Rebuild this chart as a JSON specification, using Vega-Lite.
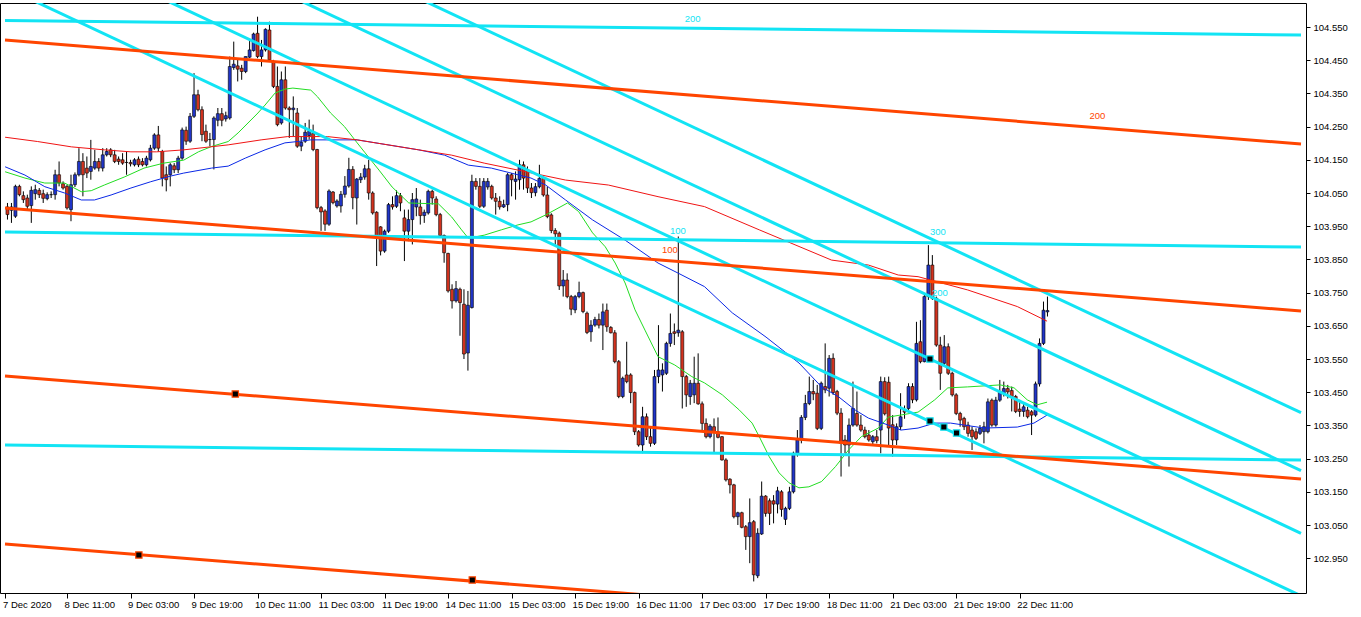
{
"$schema":"https://vega.github.io/schema/vega-lite/v6.json",
"width":1306,"height":590,
"padding":{"left":0,"top":3,"right":0,"bottom":0},
"background":"white",
"config":{"view":{"stroke":"black","strokeWidth":1},"axis":{"labelOverlap":false,"labelBound":false,"labelFlush":false,"title":null,"grid":false,"domain":false,"labelFont":"Liberation Sans","labelFontSize":9.5,"labelColor":"black","tickColor":"black"}},
"datasets":{
"last":[{"price":103.696}],
"candles":[
{"i":-15,"o":104.008,"h":104.02,"l":103.97,"c":103.985},
{"i":-14,"o":103.998,"h":104.02,"l":103.96,"c":104.008},
{"i":-13,"o":103.98,"h":104.075,"l":103.975,"c":104.07},
{"i":-12,"o":104.07,"h":104.075,"l":104.04,"c":104.045},
{"i":-11,"o":104.042,"h":104.055,"l":104.02,"c":104.03},
{"i":-10,"o":104.035,"h":104.045,"l":104.0,"c":104.01},
{"i":-9,"o":104.012,"h":104.07,"l":103.96,"c":104.058},
{"i":-8,"o":104.048,"h":104.075,"l":104.03,"c":104.06},
{"i":-7,"o":104.058,"h":104.065,"l":104.035,"c":104.045},
{"i":-6,"o":104.048,"h":104.06,"l":104.02,"c":104.034},
{"i":-5,"o":104.033,"h":104.052,"l":104.028,"c":104.045},
{"i":-4,"o":104.045,"h":104.055,"l":104.035,"c":104.045},
{"i":-3,"o":104.045,"h":104.12,"l":104.03,"c":104.105},
{"i":-2,"o":104.105,"h":104.145,"l":104.07,"c":104.08},
{"i":-1,"o":104.078,"h":104.085,"l":104.06,"c":104.065},
{"i":0,"o":104.07,"h":104.075,"l":104.0,"c":104.005},
{"i":1,"o":104.0,"h":104.105,"l":103.965,"c":104.075},
{"i":2,"o":104.075,"h":104.112,"l":104.068,"c":104.105},
{"i":3,"o":104.105,"h":104.185,"l":104.1,"c":104.145},
{"i":4,"o":104.145,"h":104.17,"l":104.04,"c":104.105},
{"i":5,"o":104.125,"h":104.16,"l":104.095,"c":104.11},
{"i":6,"o":104.115,"h":104.21,"l":104.09,"c":104.13},
{"i":7,"o":104.125,"h":104.18,"l":104.12,"c":104.145},
{"i":8,"o":104.145,"h":104.155,"l":104.115,"c":104.125},
{"i":9,"o":104.125,"h":104.185,"l":104.115,"c":104.165},
{"i":10,"o":104.165,"h":104.185,"l":104.16,"c":104.175},
{"i":11,"o":104.18,"h":104.185,"l":104.158,"c":104.165},
{"i":12,"o":104.165,"h":104.18,"l":104.14,"c":104.145},
{"i":13,"o":104.152,"h":104.16,"l":104.135,"c":104.145},
{"i":14,"o":104.15,"h":104.17,"l":104.135,"c":104.14},
{"i":15,"o":104.142,"h":104.175,"l":104.105,"c":104.142},
{"i":16,"o":104.142,"h":104.15,"l":104.13,"c":104.138},
{"i":17,"o":104.135,"h":104.155,"l":104.13,"c":104.15},
{"i":18,"o":104.152,"h":104.16,"l":104.128,"c":104.135},
{"i":19,"o":104.145,"h":104.155,"l":104.13,"c":104.135},
{"i":20,"o":104.135,"h":104.162,"l":104.13,"c":104.155},
{"i":21,"o":104.15,"h":104.195,"l":104.145,"c":104.185},
{"i":22,"o":104.185,"h":104.23,"l":104.18,"c":104.225},
{"i":23,"o":104.225,"h":104.252,"l":104.175,"c":104.185},
{"i":24,"o":104.175,"h":104.18,"l":104.07,"c":104.095},
{"i":25,"o":104.105,"h":104.13,"l":104.055,"c":104.09},
{"i":26,"o":104.105,"h":104.14,"l":104.07,"c":104.135},
{"i":27,"o":104.132,"h":104.14,"l":104.11,"c":104.12},
{"i":28,"o":104.12,"h":104.162,"l":104.11,"c":104.155},
{"i":29,"o":104.155,"h":104.247,"l":104.15,"c":104.24},
{"i":30,"o":104.239,"h":104.25,"l":104.195,"c":104.206},
{"i":31,"o":104.206,"h":104.291,"l":104.201,"c":104.281},
{"i":32,"o":104.281,"h":104.411,"l":104.276,"c":104.346},
{"i":33,"o":104.346,"h":104.361,"l":104.296,"c":104.301},
{"i":34,"o":104.301,"h":104.311,"l":104.206,"c":104.226},
{"i":35,"o":104.236,"h":104.256,"l":104.201,"c":104.206},
{"i":36,"o":104.211,"h":104.231,"l":104.191,"c":104.211},
{"i":37,"o":104.211,"h":104.281,"l":104.121,"c":104.276},
{"i":38,"o":104.269,"h":104.306,"l":104.251,"c":104.289},
{"i":39,"o":104.289,"h":104.306,"l":104.251,"c":104.269},
{"i":40,"o":104.273,"h":104.295,"l":104.265,"c":104.283},
{"i":41,"o":104.276,"h":104.461,"l":104.271,"c":104.431},
{"i":42,"o":104.428,"h":104.506,"l":104.421,"c":104.438},
{"i":43,"o":104.433,"h":104.451,"l":104.386,"c":104.423},
{"i":44,"o":104.426,"h":104.436,"l":104.391,"c":104.416},
{"i":45,"o":104.416,"h":104.461,"l":104.411,"c":104.461},
{"i":46,"o":104.459,"h":104.511,"l":104.456,"c":104.481},
{"i":47,"o":104.479,"h":104.533,"l":104.476,"c":104.529},
{"i":48,"o":104.531,"h":104.581,"l":104.456,"c":104.461},
{"i":49,"o":104.461,"h":104.511,"l":104.431,"c":104.481},
{"i":50,"o":104.481,"h":104.546,"l":104.476,"c":104.543},
{"i":51,"o":104.541,"h":104.566,"l":104.446,"c":104.451},
{"i":52,"o":104.446,"h":104.451,"l":104.366,"c":104.371},
{"i":53,"o":104.371,"h":104.431,"l":104.251,"c":104.256},
{"i":54,"o":104.261,"h":104.416,"l":104.256,"c":104.391},
{"i":55,"o":104.391,"h":104.431,"l":104.301,"c":104.306},
{"i":56,"o":104.306,"h":104.311,"l":104.216,"c":104.301},
{"i":57,"o":104.301,"h":104.341,"l":104.221,"c":104.306},
{"i":58,"o":104.291,"h":104.306,"l":104.186,"c":104.191},
{"i":59,"o":104.191,"h":104.221,"l":104.176,"c":104.203},
{"i":60,"o":104.206,"h":104.261,"l":104.201,"c":104.233},
{"i":61,"o":104.223,"h":104.271,"l":104.211,"c":104.236},
{"i":62,"o":104.229,"h":104.256,"l":104.176,"c":104.181},
{"i":63,"o":104.181,"h":104.183,"l":104.001,"c":104.006},
{"i":64,"o":104.006,"h":104.011,"l":103.936,"c":103.993},
{"i":65,"o":103.996,"h":104.001,"l":103.936,"c":103.956},
{"i":66,"o":103.956,"h":104.061,"l":103.951,"c":104.056},
{"i":67,"o":104.053,"h":104.056,"l":104.016,"c":104.021},
{"i":68,"o":104.011,"h":104.031,"l":104.006,"c":104.026},
{"i":69,"o":104.011,"h":104.056,"l":103.991,"c":104.046},
{"i":70,"o":104.046,"h":104.101,"l":104.036,"c":104.071},
{"i":71,"o":104.071,"h":104.156,"l":104.066,"c":104.121},
{"i":72,"o":104.121,"h":104.131,"l":104.001,"c":104.036},
{"i":73,"o":104.035,"h":104.095,"l":103.955,"c":104.092},
{"i":74,"o":104.09,"h":104.11,"l":104.08,"c":104.098},
{"i":75,"o":104.098,"h":104.135,"l":104.09,"c":104.123},
{"i":76,"o":104.123,"h":104.15,"l":104.03,"c":104.05},
{"i":77,"o":104.05,"h":104.055,"l":103.985,"c":103.99},
{"i":78,"o":103.992,"h":103.995,"l":103.83,"c":103.92},
{"i":79,"o":103.948,"h":103.95,"l":103.862,"c":103.875},
{"i":80,"o":103.875,"h":103.94,"l":103.87,"c":103.935},
{"i":81,"o":103.935,"h":104.02,"l":103.93,"c":104.015},
{"i":82,"o":104.015,"h":104.04,"l":104.0,"c":104.008},
{"i":83,"o":104.01,"h":104.058,"l":104.005,"c":104.042},
{"i":84,"o":104.042,"h":104.05,"l":103.995,"c":104.02},
{"i":85,"o":103.975,"h":104.0,"l":103.845,"c":103.935},
{"i":86,"o":103.935,"h":104.0,"l":103.905,"c":103.97},
{"i":87,"o":103.97,"h":104.05,"l":103.895,"c":104.03},
{"i":88,"o":104.008,"h":104.065,"l":103.98,"c":104.032},
{"i":89,"o":104.008,"h":104.03,"l":103.955,"c":103.982},
{"i":90,"o":103.982,"h":104.0,"l":103.96,"c":103.992},
{"i":91,"o":103.99,"h":104.06,"l":103.985,"c":104.055},
{"i":92,"o":104.055,"h":104.06,"l":104.015,"c":104.035},
{"i":93,"o":104.032,"h":104.04,"l":103.98,"c":103.985},
{"i":94,"o":103.985,"h":103.99,"l":103.918,"c":103.922},
{"i":95,"o":103.922,"h":103.925,"l":103.84,"c":103.87},
{"i":96,"o":103.868,"h":103.87,"l":103.75,"c":103.755},
{"i":97,"o":103.76,"h":103.775,"l":103.702,"c":103.725},
{"i":98,"o":103.725,"h":103.785,"l":103.72,"c":103.762},
{"i":99,"o":103.76,"h":103.765,"l":103.62,"c":103.72},
{"i":100,"o":103.715,"h":103.76,"l":103.55,"c":103.565},
{"i":101,"o":103.568,"h":103.755,"l":103.515,"c":103.712},
{"i":102,"o":103.705,"h":104.105,"l":103.702,"c":104.085},
{"i":103,"o":104.085,"h":104.095,"l":104.06,"c":104.07},
{"i":104,"o":104.07,"h":104.095,"l":104.005,"c":104.01},
{"i":105,"o":104.01,"h":104.095,"l":104.005,"c":104.085},
{"i":106,"o":104.068,"h":104.095,"l":104.06,"c":104.085},
{"i":107,"o":104.07,"h":104.075,"l":104.03,"c":104.035},
{"i":108,"o":104.035,"h":104.05,"l":103.985,"c":104.025},
{"i":109,"o":104.025,"h":104.04,"l":104.0,"c":104.008},
{"i":110,"o":104.008,"h":104.03,"l":104.005,"c":104.015},
{"i":111,"o":104.015,"h":104.11,"l":103.995,"c":104.105},
{"i":112,"o":104.105,"h":104.11,"l":104.04,"c":104.09},
{"i":113,"o":104.085,"h":104.115,"l":104.03,"c":104.092},
{"i":114,"o":104.09,"h":104.15,"l":104.06,"c":104.135},
{"i":115,"o":104.135,"h":104.145,"l":104.06,"c":104.095},
{"i":116,"o":104.12,"h":104.13,"l":104.05,"c":104.065},
{"i":117,"o":104.065,"h":104.08,"l":104.035,"c":104.051},
{"i":118,"o":104.051,"h":104.08,"l":104.04,"c":104.069},
{"i":119,"o":104.069,"h":104.135,"l":104.064,"c":104.094},
{"i":120,"o":104.094,"h":104.1,"l":104.039,"c":104.044},
{"i":121,"o":104.044,"h":104.069,"l":103.974,"c":103.979},
{"i":122,"o":103.984,"h":103.989,"l":103.929,"c":103.937},
{"i":123,"o":103.937,"h":103.944,"l":103.894,"c":103.927},
{"i":124,"o":103.929,"h":103.934,"l":103.758,"c":103.77},
{"i":125,"o":103.77,"h":103.818,"l":103.738,"c":103.788},
{"i":126,"o":103.788,"h":103.808,"l":103.733,"c":103.738},
{"i":127,"o":103.738,"h":103.743,"l":103.682,"c":103.7},
{"i":128,"o":103.698,"h":103.743,"l":103.688,"c":103.738},
{"i":129,"o":103.738,"h":103.783,"l":103.733,"c":103.75},
{"i":130,"o":103.75,"h":103.753,"l":103.688,"c":103.693},
{"i":131,"o":103.688,"h":103.693,"l":103.625,"c":103.63},
{"i":132,"o":103.632,"h":103.667,"l":103.602,"c":103.652},
{"i":133,"o":103.652,"h":103.677,"l":103.647,"c":103.669},
{"i":134,"o":103.669,"h":103.687,"l":103.642,"c":103.652},
{"i":135,"o":103.652,"h":103.717,"l":103.577,"c":103.692},
{"i":136,"o":103.697,"h":103.717,"l":103.632,"c":103.647},
{"i":137,"o":103.645,"h":103.649,"l":103.627,"c":103.629},
{"i":138,"o":103.629,"h":103.637,"l":103.537,"c":103.542},
{"i":139,"o":103.542,"h":103.547,"l":103.432,"c":103.437},
{"i":140,"o":103.437,"h":103.497,"l":103.432,"c":103.492},
{"i":141,"o":103.502,"h":103.602,"l":103.477,"c":103.482},
{"i":142,"o":103.502,"h":103.507,"l":103.417,"c":103.449},
{"i":143,"o":103.449,"h":103.452,"l":103.321,"c":103.331},
{"i":144,"o":103.331,"h":103.336,"l":103.286,"c":103.291},
{"i":145,"o":103.291,"h":103.406,"l":103.266,"c":103.376},
{"i":146,"o":103.376,"h":103.386,"l":103.306,"c":103.316},
{"i":147,"o":103.316,"h":103.346,"l":103.286,"c":103.296},
{"i":148,"o":103.296,"h":103.517,"l":103.291,"c":103.497},
{"i":149,"o":103.497,"h":103.652,"l":103.477,"c":103.517},
{"i":150,"o":103.502,"h":103.537,"l":103.452,"c":103.517},
{"i":151,"o":103.507,"h":103.602,"l":103.502,"c":103.597},
{"i":152,"o":103.597,"h":103.687,"l":103.587,"c":103.627},
{"i":153,"o":103.632,"h":103.657,"l":103.592,"c":103.627},
{"i":154,"o":103.629,"h":103.919,"l":103.617,"c":103.637},
{"i":155,"o":103.632,"h":103.637,"l":103.401,"c":103.497},
{"i":156,"o":103.497,"h":103.502,"l":103.406,"c":103.442},
{"i":157,"o":103.437,"h":103.487,"l":103.412,"c":103.477},
{"i":158,"o":103.442,"h":103.557,"l":103.417,"c":103.477},
{"i":159,"o":103.477,"h":103.567,"l":103.412,"c":103.415},
{"i":160,"o":103.415,"h":103.422,"l":103.336,"c":103.356},
{"i":161,"o":103.356,"h":103.371,"l":103.311,"c":103.316},
{"i":162,"o":103.316,"h":103.354,"l":103.311,"c":103.348},
{"i":163,"o":103.346,"h":103.371,"l":103.266,"c":103.331},
{"i":164,"o":103.331,"h":103.374,"l":103.311,"c":103.314},
{"i":165,"o":103.316,"h":103.318,"l":103.244,"c":103.246},
{"i":166,"o":103.246,"h":103.251,"l":103.181,"c":103.186},
{"i":167,"o":103.188,"h":103.191,"l":103.145,"c":103.171},
{"i":168,"o":103.171,"h":103.174,"l":103.07,"c":103.075},
{"i":169,"o":103.075,"h":103.09,"l":103.05,"c":103.087},
{"i":170,"o":103.087,"h":103.09,"l":103.04,"c":103.043},
{"i":171,"o":103.045,"h":103.05,"l":102.975,"c":103.015},
{"i":172,"o":103.015,"h":103.13,"l":102.935,"c":103.057},
{"i":173,"o":103.06,"h":103.065,"l":102.88,"c":102.9},
{"i":174,"o":102.897,"h":103.04,"l":102.89,"c":103.025},
{"i":175,"o":103.023,"h":103.181,"l":103.02,"c":103.137},
{"i":176,"o":103.137,"h":103.14,"l":103.075,"c":103.085},
{"i":177,"o":103.123,"h":103.13,"l":103.05,"c":103.085},
{"i":178,"o":103.123,"h":103.14,"l":103.055,"c":103.113},
{"i":179,"o":103.113,"h":103.165,"l":103.085,"c":103.153},
{"i":180,"o":103.15,"h":103.155,"l":103.075,"c":103.097},
{"i":181,"o":103.067,"h":103.105,"l":103.05,"c":103.1},
{"i":182,"o":103.1,"h":103.165,"l":103.095,"c":103.15},
{"i":183,"o":103.15,"h":103.271,"l":103.145,"c":103.266},
{"i":184,"o":103.266,"h":103.336,"l":103.256,"c":103.306},
{"i":185,"o":103.306,"h":103.381,"l":103.296,"c":103.374},
{"i":186,"o":103.374,"h":103.442,"l":103.366,"c":103.416},
{"i":187,"o":103.416,"h":103.497,"l":103.411,"c":103.452},
{"i":188,"o":103.452,"h":103.487,"l":103.426,"c":103.445},
{"i":189,"o":103.447,"h":103.472,"l":103.336,"c":103.341},
{"i":190,"o":103.341,"h":103.482,"l":103.336,"c":103.477},
{"i":191,"o":103.467,"h":103.597,"l":103.447,"c":103.457},
{"i":192,"o":103.462,"h":103.562,"l":103.437,"c":103.552},
{"i":193,"o":103.552,"h":103.567,"l":103.442,"c":103.449},
{"i":194,"o":103.452,"h":103.457,"l":103.381,"c":103.387},
{"i":195,"o":103.387,"h":103.402,"l":103.196,"c":103.296},
{"i":196,"o":103.306,"h":103.321,"l":103.266,"c":103.291},
{"i":197,"o":103.291,"h":103.371,"l":103.226,"c":103.351},
{"i":198,"o":103.351,"h":103.482,"l":103.346,"c":103.401},
{"i":199,"o":103.386,"h":103.452,"l":103.346,"c":103.351},
{"i":200,"o":103.351,"h":103.381,"l":103.331,"c":103.336},
{"i":201,"o":103.336,"h":103.346,"l":103.311,"c":103.316},
{"i":202,"o":103.321,"h":103.336,"l":103.301,"c":103.306},
{"i":203,"o":103.301,"h":103.321,"l":103.291,"c":103.316},
{"i":204,"o":103.316,"h":103.336,"l":103.296,"c":103.304},
{"i":205,"o":103.336,"h":103.497,"l":103.266,"c":103.482},
{"i":206,"o":103.482,"h":103.495,"l":103.38,"c":103.385},
{"i":207,"o":103.48,"h":103.497,"l":103.286,"c":103.342},
{"i":208,"o":103.352,"h":103.381,"l":103.256,"c":103.306},
{"i":209,"o":103.306,"h":103.356,"l":103.291,"c":103.346},
{"i":210,"o":103.346,"h":103.447,"l":103.336,"c":103.376},
{"i":211,"o":103.395,"h":103.41,"l":103.37,"c":103.39},
{"i":212,"o":103.401,"h":103.477,"l":103.396,"c":103.467},
{"i":213,"o":103.467,"h":103.477,"l":103.417,"c":103.427},
{"i":214,"o":103.427,"h":103.662,"l":103.422,"c":103.597},
{"i":215,"o":103.602,"h":103.667,"l":103.537,"c":103.542},
{"i":216,"o":103.542,"h":103.743,"l":103.54,"c":103.738},
{"i":217,"o":103.738,"h":103.893,"l":103.728,"c":103.833},
{"i":218,"o":103.833,"h":103.863,"l":103.728,"c":103.733},
{"i":219,"o":103.733,"h":103.738,"l":103.587,"c":103.592},
{"i":220,"o":103.592,"h":103.617,"l":103.457,"c":103.507},
{"i":221,"o":103.537,"h":103.622,"l":103.527,"c":103.587},
{"i":222,"o":103.587,"h":103.597,"l":103.502,"c":103.507},
{"i":223,"o":103.507,"h":103.512,"l":103.437,"c":103.442},
{"i":224,"o":103.442,"h":103.447,"l":103.381,"c":103.386},
{"i":225,"o":103.386,"h":103.391,"l":103.346,"c":103.366},
{"i":226,"o":103.371,"h":103.376,"l":103.336,"c":103.346},
{"i":227,"o":103.351,"h":103.361,"l":103.316,"c":103.326},
{"i":228,"o":103.336,"h":103.346,"l":103.276,"c":103.316},
{"i":229,"o":103.331,"h":103.341,"l":103.306,"c":103.311},
{"i":230,"o":103.326,"h":103.351,"l":103.321,"c":103.341},
{"i":231,"o":103.331,"h":103.361,"l":103.296,"c":103.346},
{"i":232,"o":103.331,"h":103.431,"l":103.326,"c":103.421},
{"i":233,"o":103.426,"h":103.431,"l":103.346,"c":103.351},
{"i":234,"o":103.351,"h":103.436,"l":103.346,"c":103.426},
{"i":235,"o":103.426,"h":103.487,"l":103.421,"c":103.451},
{"i":236,"o":103.446,"h":103.482,"l":103.437,"c":103.461},
{"i":237,"o":103.461,"h":103.472,"l":103.431,"c":103.451},
{"i":238,"o":103.455,"h":103.467,"l":103.392,"c":103.437},
{"i":239,"o":103.437,"h":103.442,"l":103.387,"c":103.392},
{"i":240,"o":103.399,"h":103.427,"l":103.376,"c":103.392},
{"i":241,"o":103.392,"h":103.417,"l":103.376,"c":103.406},
{"i":242,"o":103.396,"h":103.406,"l":103.371,"c":103.376},
{"i":243,"o":103.391,"h":103.396,"l":103.321,"c":103.381},
{"i":244,"o":103.381,"h":103.482,"l":103.376,"c":103.475},
{"i":245,"o":103.475,"h":103.612,"l":103.467,"c":103.597},
{"i":246,"o":103.597,"h":103.723,"l":103.592,"c":103.697},
{"i":247,"o":103.692,"h":103.738,"l":103.678,"c":103.696}
],
"ma":[
{"k":"g","i":-15.6,"p":104.114},{"k":"g","i":-10.6,"p":104.095},{"k":"g","i":-5.6,"p":104.08},{"k":"g","i":-0.6,"p":104.08},{"k":"g","i":3.6,"p":104.054},{"k":"g","i":6.1,"p":104.057},{"k":"g","i":9.4,"p":104.074},{"k":"g","i":14.4,"p":104.098},{"k":"g","i":19.4,"p":104.125},{"k":"g","i":24.4,"p":104.14},{"k":"g","i":29.4,"p":104.149},{"k":"g","i":33.1,"p":104.174},{"k":"g","i":36.4,"p":104.19},{"k":"g","i":40.6,"p":104.205},{"k":"g","i":43.1,"p":104.231},{"k":"g","i":48.1,"p":104.291},{"k":"g","i":49.9,"p":104.315},{"k":"g","i":52.4,"p":104.351},{"k":"g","i":54.9,"p":104.363},{"k":"g","i":56.9,"p":104.366},{"k":"g","i":61.4,"p":104.36},{"k":"g","i":63.1,"p":104.34},{"k":"g","i":66.4,"p":104.291},{"k":"g","i":69.9,"p":104.25},{"k":"g","i":73.1,"p":104.201},{"k":"g","i":75.1,"p":104.171},{"k":"g","i":78.6,"p":104.119},{"k":"g","i":81.9,"p":104.068},{"k":"g","i":86.1,"p":104.02},{"k":"g","i":93.6,"p":104.017},{"k":"g","i":96.9,"p":103.978},{"k":"g","i":99.4,"p":103.939},{"k":"g","i":101.1,"p":103.914},{"k":"g","i":105.1,"p":103.923},{"k":"g","i":109.4,"p":103.939},{"k":"g","i":113.6,"p":103.954},{"k":"g","i":116.9,"p":103.963},{"k":"g","i":120.6,"p":103.984},{"k":"g","i":126.1,"p":104.02},{"k":"g","i":128.9,"p":103.994},{"k":"g","i":132.4,"p":103.93},{"k":"g","i":135.6,"p":103.888},{"k":"g","i":138.1,"p":103.839},{"k":"g","i":140.6,"p":103.779},{"k":"g","i":143.1,"p":103.698},{"k":"g","i":145.6,"p":103.637},{"k":"g","i":148.9,"p":103.557},{"k":"g","i":153.1,"p":103.532},{"k":"g","i":157.4,"p":103.497},{"k":"g","i":160.6,"p":103.478},{"k":"g","i":165.1,"p":103.442},{"k":"g","i":169.4,"p":103.396},{"k":"g","i":172.6,"p":103.357},{"k":"g","i":174.4,"p":103.316},{"k":"g","i":176.9,"p":103.256},{"k":"g","i":179.4,"p":103.207},{"k":"g","i":181.9,"p":103.177},{"k":"g","i":184.4,"p":103.162},{"k":"g","i":186.9,"p":103.165},{"k":"g","i":190.1,"p":103.181},{"k":"g","i":193.6,"p":103.226},{"k":"g","i":196.9,"p":103.276},{"k":"g","i":200.1,"p":103.316},{"k":"g","i":204.4,"p":103.342},{"k":"g","i":206.9,"p":103.375},{"k":"g","i":214.4,"p":103.39},{"k":"g","i":218.6,"p":103.427},{"k":"g","i":221.9,"p":103.463},{"k":"g","i":226.9,"p":103.466},{"k":"g","i":235.1,"p":103.472},{"k":"g","i":238.6,"p":103.463},{"k":"g","i":241.9,"p":103.427},{"k":"g","i":244.4,"p":103.412},{"k":"g","i":246.9,"p":103.42},
{"k":"b","i":-15.6,"p":104.129},{"k":"b","i":-10.6,"p":104.104},{"k":"b","i":-5.6,"p":104.069},{"k":"b","i":-0.6,"p":104.05},{"k":"b","i":3.6,"p":104.029},{"k":"b","i":6.9,"p":104.029},{"k":"b","i":11.1,"p":104.044},{"k":"b","i":16.1,"p":104.065},{"k":"b","i":21.1,"p":104.084},{"k":"b","i":26.1,"p":104.101},{"k":"b","i":29.4,"p":104.11},{"k":"b","i":36.4,"p":104.125},{"k":"b","i":40.6,"p":104.131},{"k":"b","i":44.9,"p":104.155},{"k":"b","i":49.9,"p":104.18},{"k":"b","i":54.9,"p":104.201},{"k":"b","i":58.1,"p":104.205},{"k":"b","i":61.4,"p":104.21},{"k":"b","i":73.1,"p":104.21},{"k":"b","i":88.6,"p":104.18},{"k":"b","i":95.1,"p":104.164},{"k":"b","i":101.1,"p":104.134},{"k":"b","i":106.9,"p":104.125},{"k":"b","i":111.9,"p":104.11},{"k":"b","i":116.9,"p":104.095},{"k":"b","i":120.6,"p":104.074},{"k":"b","i":125.6,"p":104.029},{"k":"b","i":132.4,"p":103.969},{"k":"b","i":140.6,"p":103.908},{"k":"b","i":148.9,"p":103.839},{"k":"b","i":153.9,"p":103.809},{"k":"b","i":160.6,"p":103.768},{"k":"b","i":167.6,"p":103.689},{"k":"b","i":176.1,"p":103.616},{"k":"b","i":184.4,"p":103.538},{"k":"b","i":190.1,"p":103.466},{"k":"b","i":194.4,"p":103.436},{"k":"b","i":198.6,"p":103.396},{"k":"b","i":201.9,"p":103.372},{"k":"b","i":206.9,"p":103.351},{"k":"b","i":210.1,"p":103.336},{"k":"b","i":214.4,"p":103.342},{"k":"b","i":218.6,"p":103.357},{"k":"b","i":222.6,"p":103.357},{"k":"b","i":231.1,"p":103.342},{"k":"b","i":239.4,"p":103.345},{"k":"b","i":243.6,"p":103.357},{"k":"b","i":246.9,"p":103.381},
{"k":"r","i":-15.6,"p":104.218},{"k":"r","i":-7.4,"p":104.205},{"k":"r","i":1.1,"p":104.189},{"k":"r","i":9.4,"p":104.18},{"k":"r","i":16.1,"p":104.174},{"k":"r","i":22.6,"p":104.174},{"k":"r","i":29.4,"p":104.18},{"k":"r","i":40.6,"p":104.195},{"k":"r","i":48.9,"p":104.21},{"k":"r","i":55.6,"p":104.22},{"k":"r","i":65.6,"p":104.22},{"k":"r","i":73.1,"p":104.21},{"k":"r","i":88.6,"p":104.18},{"k":"r","i":96.9,"p":104.164},{"k":"r","i":105.1,"p":104.14},{"k":"r","i":113.6,"p":104.119},{"k":"r","i":125.6,"p":104.089},{"k":"r","i":136.4,"p":104.074},{"k":"r","i":148.9,"p":104.039},{"k":"r","i":160.6,"p":104.009},{"k":"r","i":174.4,"p":103.939},{"k":"r","i":192.6,"p":103.848},{"k":"r","i":201.9,"p":103.833},{"k":"r","i":209.4,"p":103.803},{"k":"r","i":214.4,"p":103.798},{"k":"r","i":226.9,"p":103.758},{"k":"r","i":239.4,"p":103.708},{"k":"r","i":246.9,"p":103.664}
],
"tl":[
{"id":"C1","k":"c","i":-15.625,"p":104.5696},{"id":"C1","k":"c","i":310.875,"p":104.5259},
{"id":"C2","k":"c","i":-15.625,"p":103.9325},{"id":"C2","k":"c","i":310.875,"p":103.8873},
{"id":"C3","k":"c","i":-15.625,"p":103.291},{"id":"C3","k":"c","i":310.875,"p":103.2458},
{"id":"X1","k":"c","i":-15.625,"p":105.2217},{"id":"X1","k":"c","i":310.875,"p":103.3885},
{"id":"X2","k":"c","i":-15.625,"p":105.047},{"id":"X2","k":"c","i":310.875,"p":103.2139},
{"id":"X3","k":"c","i":-15.625,"p":104.8581},{"id":"X3","k":"c","i":310.875,"p":103.025},
{"id":"X4","k":"c","i":-15.625,"p":104.6698},{"id":"X4","k":"c","i":310.875,"p":102.8368},
{"id":"R1","k":"o","i":-15.625,"p":104.5108},{"id":"R1","k":"o","i":310.875,"p":104.1976},
{"id":"R2","k":"o","i":-15.625,"p":104.0048},{"id":"R2","k":"o","i":310.875,"p":103.6946},
{"id":"R3","k":"o","i":-15.625,"p":103.4988},{"id":"R3","k":"o","i":310.875,"p":103.1886},
{"id":"R4","k":"o","i":-15.625,"p":102.9928},{"id":"R4","k":"o","i":310.875,"p":102.6826}
],
"anchors":[
{"k":"o","i":42.4,"p":103.4446},{"k":"o","i":18.1,"p":102.9596},{"k":"o","i":102.1,"p":102.8843},
{"k":"c","i":217.4,"p":103.55},{"k":"c","i":217.4,"p":103.3633},{"k":"c","i":220.9,"p":103.3452},{"k":"c","i":224.1,"p":103.3271}
],
"levels":[
{"t":"200","k":"c","i":157.6,"p":104.574},
{"t":"100","k":"c","i":153.9,"p":103.936},
{"t":"100","k":"o","i":151.9,"p":103.878},
{"t":"200","k":"o","i":259.6,"p":104.282},
{"t":"300","k":"c","i":219.4,"p":103.933},
{"t":"200","k":"c","i":219.9,"p":103.749}
]
},
"encoding":{
"x":{"field":"i","type":"quantitative","scale":{"domain":[-15.625,310.875],"nice":false,"zero":false,"clamp":false},
"axis":{"values":[-15.5,0,16,32,48,64,80,96,112,128,144,160,176,192,208,224,240],"tickCount":100,
"labelExpr":"datum.value < 0 ? '7 Dec 2020' : ['8 Dec 11:00','9 Dec 03:00','9 Dec 19:00','10 Dec 11:00','11 Dec 03:00','11 Dec 19:00','14 Dec 11:00','15 Dec 03:00','15 Dec 19:00','16 Dec 11:00','17 Dec 03:00','17 Dec 19:00','18 Dec 11:00','21 Dec 03:00','21 Dec 19:00','22 Dec 11:00'][datum.value/16]",
"title":null,"orient":"bottom","domain":false,"grid":false,"tickSize":5,"tickColor":"black","labelAlign":"left","labelBaseline":"top","labelPadding":1,"labelOffset":-3,"labelFont":"Liberation Sans","labelFontSize":9.5,"labelColor":"black","labelOverlap":false,"labelBound":false,"labelFlush":false}}
},
"layer":[
{"data":{"name":"candles"},"mark":{"type":"rule","color":"black","strokeWidth":1},
"encoding":{"y":{"field":"l","type":"quantitative","scale":{"domain":[102.8452,104.6223],"nice":false,"zero":false,"clamp":false},
"axis":{"orient":"right","values":[102.95,103.05,103.15,103.25,103.35,103.45,103.55,103.65,103.75,103.85,103.95,104.05,104.15,104.25,104.35,104.45,104.55],"tickCount":100,"format":".3f","title":null,"domain":false,"grid":false,"ticks":true,"tickSize":4,"tickColor":"black","labelPadding":3,"labelFont":"Liberation Sans","labelFontSize":9.5,"labelColor":"black","labelOverlap":false,"labelBound":false}},
"y2":{"field":"h"}}},
{"data":{"name":"candles"},"mark":{"type":"bar","size":3,"stroke":"black","strokeWidth":0.6},
"encoding":{"y":{"field":"o","type":"quantitative"},
"y2":{"field":"c"},
"fill":{"condition":[{"test":"datum.c == datum.o","value":"#00E000"},{"test":"datum.c > datum.o","value":"#2035C8"}],"value":"#D2321E"}}},
{"data":{"name":"ma"},"mark":{"type":"line","strokeWidth":1,"clip":true},
"encoding":{"y":{"field":"p","type":"quantitative"},
"color":{"field":"k","type":"nominal","scale":{"domain":["g","b","r","c","o"],"range":["#22DD22","#0A28E6","#F01414","#12E4F4","#FF4500"]},"legend":null}}},
{"data":{"name":"tl"},"mark":{"type":"line","strokeWidth":3,"clip":true},
"encoding":{"y":{"field":"p","type":"quantitative"},
"detail":{"field":"id"},
"color":{"field":"k","type":"nominal","scale":{"domain":["g","b","r","c","o"],"range":["#22DD22","#0A28E6","#F01414","#12E4F4","#FF4500"]},"legend":null}}},
{"data":{"name":"levels"},"mark":{"type":"text","font":"Liberation Sans","fontSize":9.5,"align":"center","baseline":"middle"},
"encoding":{"y":{"field":"p","type":"quantitative"},
"text":{"field":"t"},
"color":{"field":"k","type":"nominal","scale":{"domain":["g","b","r","c","o"],"range":["#22DD22","#0A28E6","#F01414","#12E4F4","#FF4500"]},"legend":null}}},
{"data":{"name":"anchors"},"mark":{"type":"point","shape":"square","filled":true,"fill":"black","size":40,"strokeWidth":1.2,"opacity":1},
"encoding":{"y":{"field":"p","type":"quantitative"},
"stroke":{"field":"k","type":"nominal","scale":{"domain":["c","o"],"range":["#12E4F4","#FF4500"]},"legend":null}}},
{"mark":{"type":"rule","color":"black","strokeWidth":1},"encoding":{"y":{"datum":103.696,"type":"quantitative"}}},
{"mark":{"type":"text","text":"USDJPY,H1:\u00a0 US Dollar vs Japanese Yen","font":"Liberation Sans","fontSize":9.5,"align":"left","baseline":"middle","color":"black"},
"encoding":{"x":{"datum":-14.625,"type":"quantitative"},"y":{"datum":104.5967,"type":"quantitative"}}},
{"data":{"name":"last"},"mark":{"type":"point","shape":"M-1,-0.31L1,-0.31L1,0.31L-1,0.31Z","filled":true,"fill":"black","strokeWidth":0,"size":1764,"opacity":1},
"encoding":{"x":{"datum":316.375,"type":"quantitative"},"y":{"field":"price","type":"quantitative"}}},
{"data":{"name":"last"},"mark":{"type":"text","font":"Liberation Sans","fontSize":9.5,"align":"left","baseline":"middle","color":"white"},
"encoding":{"x":{"datum":311.9,"type":"quantitative"},"y":{"field":"price","type":"quantitative"},"text":{"field":"price","type":"quantitative","format":".3f"}}}
]
}
